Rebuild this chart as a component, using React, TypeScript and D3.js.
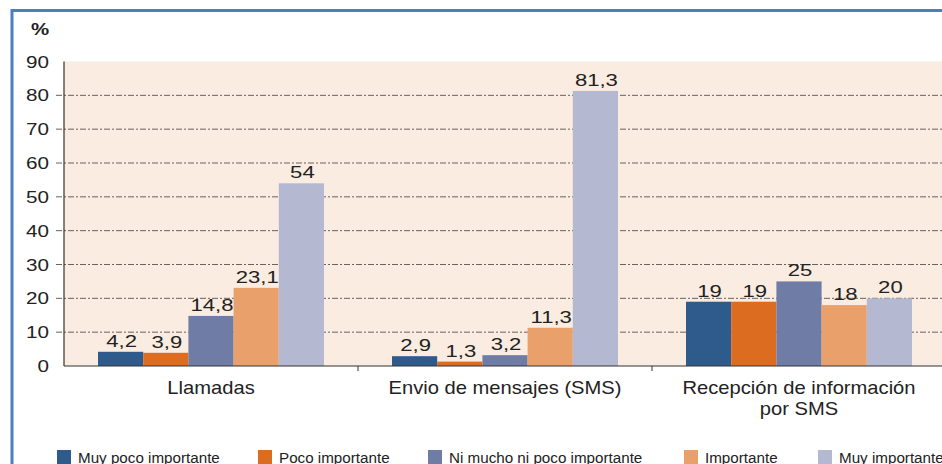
import React from "react";
import * as d3 from "d3";

const categories = ["Llamadas", "Envio de mensajes (SMS)", "Recepción de información|por SMS"];
const seriesNames = ["Muy poco importante", "Poco importante", "Ni mucho ni poco importante", "Importante", "Muy importante"];
const seriesColors = ["#2e5a8c", "#dc6c1f", "#6f7ca6", "#e9a06b", "#b4b9d1"];
const values = [
  [4.2, 3.9, 14.8, 23.1, 54],
  [2.9, 1.3, 3.2, 11.3, 81.3],
  [19, 19, 25, 18, 20],
];
const valueLabels = [
  ["4,2", "3,9", "14,8", "23,1", "54"],
  ["2,9", "1,3", "3,2", "11,3", "81,3"],
  ["19", "19", "25", "18", "20"],
];
const yTicks = [0, 10, 20, 30, 40, 50, 60, 70, 80, 90];
const legendX = [57, 258, 428, 684, 818];

function SText({ x, y, sx, anchor, size, children, weight }: any) {
  return (
    <text transform={`translate(${x},${y}) scale(${sx},1)`} textAnchor={anchor} fontSize={size} fontWeight={weight} fill="#222">
      {children}
    </text>
  );
}

export default function App() {
  const W = 942, H = 464;
  const left = 64, right = 946, top = 61.5, bottom = 366;
  const y = d3.scaleLinear().domain([0, 90]).range([bottom, top]);
  const x0 = d3.scaleBand<number>().domain([0, 1, 2]).range([left, right]).paddingInner(0).paddingOuter(0);
  const inner = d3.scaleBand<number>().domain([0, 1, 2, 3, 4]).range([34, x0.bandwidth() - 34]).padding(0);
  const font = "'Liberation Sans', Arial, sans-serif";
  return (
    <svg width={W} height={H} style={{ position: "absolute", left: 0, top: 0 }} fontFamily={font}>
      <rect x={0} y={0} width={W} height={H} fill="#fff" />
      <rect x={12} y={10.5} width={W + 20} height={H + 20} fill="none" stroke="#4a7fbf" strokeWidth={3} />
      <rect x={left} y={top} width={right - left} height={bottom - top} fill="#faece0" />
      {yTicks.filter(t => t > 0 && t < 90).map(t => (
        <line key={t} x1={56} x2={right} y1={y(t)} y2={y(t)} stroke="#6b625c" strokeWidth={1} strokeDasharray="6,2,2,2" />
      ))}
      {yTicks.map(t => (
        <SText key={t} x={49} y={y(t) + 6} sx={1.25} anchor="end" size={16.5}>{t}</SText>
      ))}
      <SText x={40} y={35} sx={1.2} anchor="middle" size={17} weight="bold">%</SText>
      {values.map((row, ci) => (
        <g key={ci} transform={`translate(${x0(ci)},0)`}>
          {row.map((v, si) => (
            <g key={si}>
              <rect x={inner(si)} y={y(v)} width={inner.bandwidth()} height={bottom - y(v)} fill={seriesColors[si]} />
              <SText x={inner(si)! + inner.bandwidth() / 2 + 1} y={y(v) - 5} sx={1.3} anchor="middle" size={17}>{valueLabels[ci][si]}</SText>
            </g>
          ))}
        </g>
      ))}
      <line x1={left} x2={left} y1={top} y2={bottom} stroke="#333" strokeWidth={1.2} />
      <line x1={left} x2={right} y1={bottom} y2={bottom} stroke="#333" strokeWidth={1.2} />
      {[1, 2].map(i => (
        <line key={i} x1={x0(i)} x2={x0(i)} y1={bottom} y2={bottom + 5} stroke="#333" strokeWidth={1} />
      ))}
      {categories.map((c, ci) =>
        c.split("|").map((line, li) => (
          <SText key={ci + "-" + li} x={x0(ci)! + x0.bandwidth() / 2} y={394 + li * 21} sx={1.12} anchor="middle" size={18}>{line}</SText>
        ))
      )}
      {seriesNames.map((s, i) => (
        <g key={i}>
          <rect x={legendX[i]} y={450} width={14} height={14} fill={seriesColors[i]} />
          <text x={legendX[i] + 21} y={463} fontSize={15.2} fill="#222">{s}</text>
        </g>
      ))}
    </svg>
  );
}
